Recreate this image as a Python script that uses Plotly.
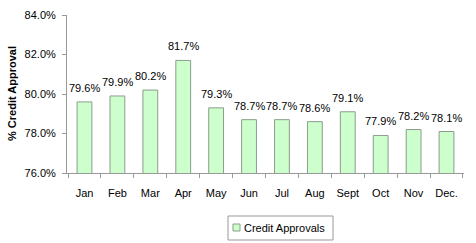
import plotly.graph_objects as go

months = ["Jan", "Feb", "Mar", "Apr", "May", "Jun", "Jul", "Aug", "Sept", "Oct", "Nov", "Dec."]
approval = [79.6, 79.9, 80.2, 81.7, 79.3, 78.7, 78.7, 78.6, 79.1, 77.9, 78.2, 78.1]
y_ticks = [76, 78, 80, 82, 84]
y_tick_labels = ["76.0%", "78.0%", "80.0%", "82.0%", "84.0%"]
legend_label = "Credit Approvals"

font = "Liberation Sans, Arial, sans-serif"
W, H = 476, 243
L, R, T, B = 67, 12, 15, 70
pw, ph = W - L - R, H - T - B

def px(x):
    return (x - L) / pw

def py(y):
    return (H - B - y) / ph

fig = go.Figure()
fig.add_trace(go.Bar(
    x=months, y=approval, name=legend_label, showlegend=False,
    marker=dict(color="#CCFFCC", line=dict(color="#8C9C8C", width=1)),
    width=0.45,
))

# value labels above bars
for m, v in zip(months, approval):
    fig.add_annotation(x=m, y=v, text=f"{v:.1f}%", showarrow=False,
                       xanchor="center", yanchor="bottom", yshift=6,
                       font=dict(family=font, size=11, color="black"))

# custom compact legend (box, swatch, text)
fig.add_shape(type="rect", xref="paper", yref="paper",
              x0=px(228), x1=px(333), y0=py(240), y1=py(216),
              line=dict(color="#999999", width=1), fillcolor="white")
fig.add_shape(type="rect", xref="paper", yref="paper",
              x0=px(233), x1=px(240), y0=py(231), y1=py(224),
              line=dict(color="#8C9C8C", width=1), fillcolor="#CCFFCC")
fig.add_annotation(text=legend_label, xref="paper", yref="paper",
                   x=px(242), y=py(228), xanchor="left", yanchor="middle",
                   showarrow=False, font=dict(family=font, size=11, color="black"))

# y-axis title
fig.add_annotation(text="<b>% Credit Approval</b>", xref="paper", yref="paper",
                   x=px(12), y=py(94), xanchor="center", yanchor="middle",
                   textangle=-90, showarrow=False,
                   font=dict(family=font, size=11, color="black"))

fig.update_layout(
    width=W, height=H,
    margin=dict(l=L, r=R, t=T, b=B, autoexpand=False),
    paper_bgcolor="white", plot_bgcolor="white",
    font=dict(family=font, size=11, color="black"),
    showlegend=False,
)
fig.update_xaxes(
    showline=True, linecolor="#999999", linewidth=1,
    ticks="outside", tickson="boundaries", ticklen=4, tickcolor="#999999",
    showgrid=False, tickfont=dict(size=11), automargin=False,
    ticklabelstandoff=10,
)
fig.update_yaxes(
    range=[76, 84], tickvals=y_ticks, ticktext=y_tick_labels,
    showline=True, linecolor="#999999", linewidth=1,
    ticks="outside", ticklen=4, tickcolor="#999999",
    showgrid=False, zeroline=False, tickfont=dict(size=11),
    automargin=False, ticklabelstandoff=4,
)

fig.write_html("out.html")
